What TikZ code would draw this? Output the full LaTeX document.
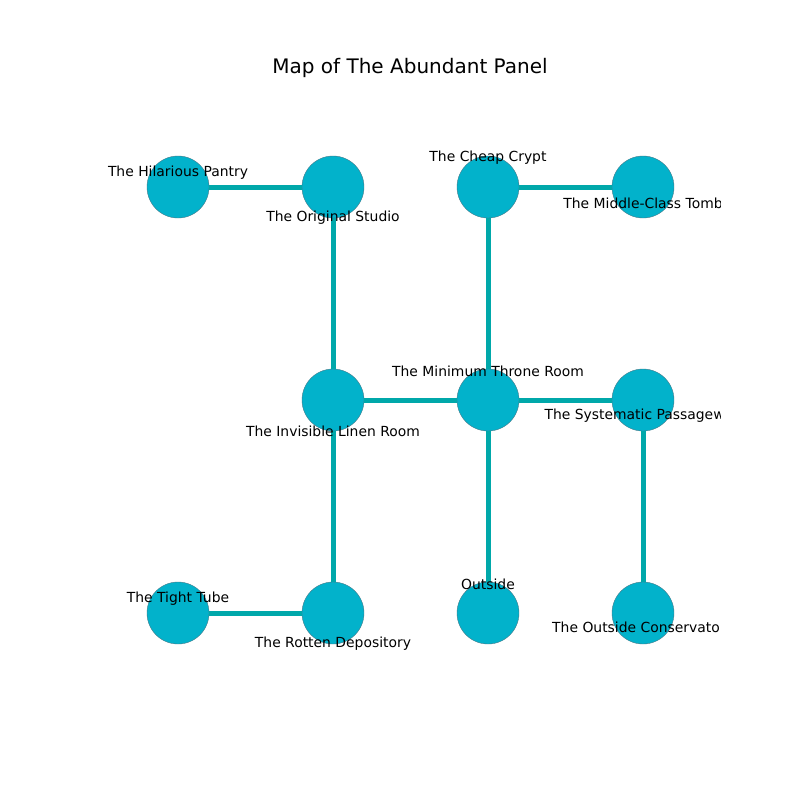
\documentclass[tikz,border=0pt]{standalone}
\usepackage{fontspec}
\setmainfont{DejaVu Sans}
\definecolor{roomfill}{RGB}{2,178,203}
\definecolor{roomline}{RGB}{70,120,135}
\definecolor{passage}{RGB}{0,168,170}
\tikzset{
  room/.style={circle, fill=roomfill, draw=roomline, line width=0.4pt, minimum size=62pt, inner sep=0pt},
  link/.style={draw=passage, line width=5pt},
  roomname/.style={font=\fontsize{13.9pt}{16pt}\selectfont, inner sep=0pt, anchor=center},
}
\begin{document}
\begin{tikzpicture}[x=1pt,y=-1pt]
\useasboundingbox (0,0) rectangle (800,800);
\fill[white] (0,0) rectangle (800,800);
\node[font=\fontsize{20pt}{23pt}\selectfont, inner sep=0pt] (title) at (410,68) {Map of The Abundant Panel};

% rooms
\node[room] (pantry) at (178,187) {};
\node[room] (studio) at (333,187) {};
\node[room] (crypt) at (488,187) {};
\node[room] (tomb) at (643,187) {};
\node[room] (linen) at (333,400) {};
\node[room] (throne) at (488,400) {};
\node[room] (passageway) at (643,400) {};
\node[room] (tube) at (178,613) {};
\node[room] (depository) at (333,613) {};
\node[room] (outside) at (488,613) {};
\node[room] (conservatory) at (643,613) {};

% passages between rooms
\path[link] (pantry) -- (studio);
\path[link] (crypt) -- (tomb);
\path[link] (studio) -- (linen);
\path[link] (crypt) -- (throne);
\path[link] (linen) -- (throne);
\path[link] (throne) -- (passageway);
\path[link] (throne) -- (outside);
\path[link] (passageway) -- (conservatory);
\path[link] (linen) -- (depository);
\path[link] (tube) -- (depository);

% room names, clipped to the plot area
\begin{scope}
\clip (100,96) rectangle (720,712);
\node[roomname] (pantryname) at (178,173) {The Hilarious Pantry};
\node[roomname] (studioname) at (333,218) {The Original Studio};
\node[roomname] (cryptname) at (488,158) {The Cheap Crypt};
\node[roomname] (tombname) at (643,203) {The Middle-Class Tomb};
\node[roomname] (thronename) at (488,371) {The Minimum Throne Room};
\node[roomname] (linenname) at (333,431) {The Invisible Linen Room};
\node[roomname] (passagename) at (643,416) {The Systematic Passageway};
\node[roomname] (tubename) at (178,599) {The Tight Tube};
\node[roomname] (depositoryname) at (333,644) {The Rotten Depository};
\node[roomname] (outsidename) at (488,584) {Outside};
\node[roomname] (conservatoryname) at (643,629) {The Outside Conservatory};
\end{scope}
\end{tikzpicture}
\end{document}
